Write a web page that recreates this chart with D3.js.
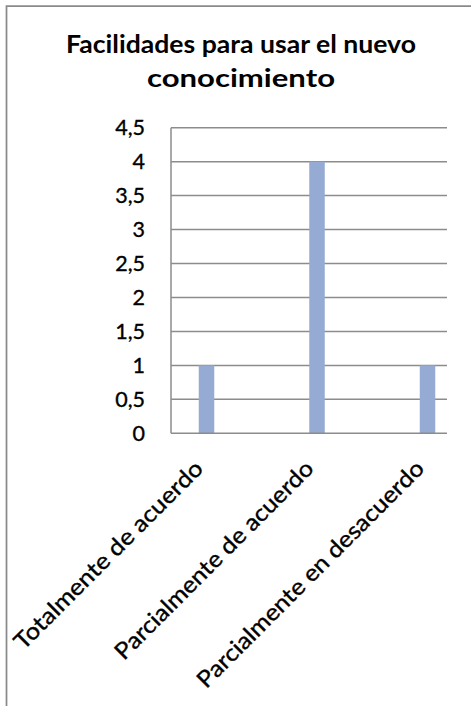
<!DOCTYPE html>
<html>
<head>
<meta charset="utf-8">
<script src="https://cdn.jsdelivr.net/npm/d3@7"></script>
<style>
  html, body { margin: 0; padding: 0; background: #fff; }
  svg { display: block; }
  text { font-family: Lato, "Open Sans", sans-serif; fill: #000; }
  text.reg { stroke: #000; stroke-width: 0.35px; }
</style>
</head>
<body>
<svg id="chart" width="471" height="706"></svg>
<script>
// Chart data
const titleLines = ["Facilidades para usar el nuevo", "conocimiento"];
const categories = ["Totalmente de acuerdo", "Parcialmente de acuerdo", "Parcialmente en desacuerdo"];
const values = [1, 4, 1];
const yTicks = [0, 0.5, 1, 1.5, 2, 2.5, 3, 3.5, 4, 4.5];

const svg = d3.select("#chart");
const W = 471, H = 706;

// Plot frame
const plot = { left: 171, right: 447, top: 127.7, bottom: 433.3 };

// Outer chart border (left and top edges visible)
svg.append("path")
  .attr("d", `M6.5,${H} V6 H${W}`)
  .attr("fill", "none")
  .attr("stroke", "#8a8a8a")
  .attr("stroke-width", 1.75);

// Title
const title = svg.append("g").attr("text-anchor", "middle");
const titleBase = [52.7, 86.7];
const titleLen = [350, 188];
titleLines.forEach((t, i) => {
  title.append("text")
    .attr("x", 241)
    .attr("y", titleBase[i])
    .attr("font-size", 24)
    .attr("font-weight", "bold")
    .attr("textLength", titleLen[i])
    .attr("lengthAdjust", "spacingAndGlyphs")
    .text(t);
});

// Scales
const y = d3.scaleLinear().domain([0, 4.5]).range([plot.bottom, plot.top]);
const x = d3.scalePoint().domain(categories).range([206.5, 427.5]);
const barW = 15.5;

// Horizontal gridlines
svg.append("g")
  .selectAll("line")
  .data(yTicks.filter(d => d > 0))
  .join("line")
  .attr("x1", plot.left)
  .attr("x2", plot.right)
  .attr("y1", d => y(d))
  .attr("y2", d => y(d))
  .attr("stroke", "#8c8c8c")
  .attr("stroke-width", 1.5);

// Bars
svg.append("g")
  .selectAll("rect")
  .data(values)
  .join("rect")
  .attr("x", (d, i) => x(categories[i]) - barW / 2)
  .attr("y", d => y(d))
  .attr("width", barW)
  .attr("height", d => y(0) - y(d))
  .attr("fill", "#95abd3");

// Axis lines
svg.append("line")
  .attr("x1", plot.left).attr("x2", plot.left)
  .attr("y1", plot.top).attr("y2", plot.bottom)
  .attr("stroke", "#8c8c8c").attr("stroke-width", 1.5);
svg.append("line")
  .attr("x1", plot.left).attr("x2", plot.right)
  .attr("y1", plot.bottom).attr("y2", plot.bottom)
  .attr("stroke", "#8c8c8c").attr("stroke-width", 1.5);

// Y tick labels (comma decimal)
const fmt = d => String(d).replace(".", ",");
svg.append("g")
  .selectAll("text")
  .data(yTicks)
  .join("text")
  .attr("class", "reg")
  .attr("x", 145)
  .attr("y", d => y(d))
  .attr("dy", "0.36em")
  .attr("text-anchor", "end")
  .attr("font-size", 21.5)
  .text(fmt);

// Rotated category labels
const labelLen = [256, 270, 310];
svg.append("g")
  .selectAll("text")
  .data(categories)
  .join("text")
  .attr("class", "reg")
  .attr("transform", d => `translate(${x(d) - 2},470) rotate(-45)`)
  .attr("text-anchor", "end")
  .attr("font-size", 23)
  .attr("textLength", (d, i) => labelLen[i])
  .attr("lengthAdjust", "spacingAndGlyphs")
  .text(d => d);
</script>
</body>
</html>
